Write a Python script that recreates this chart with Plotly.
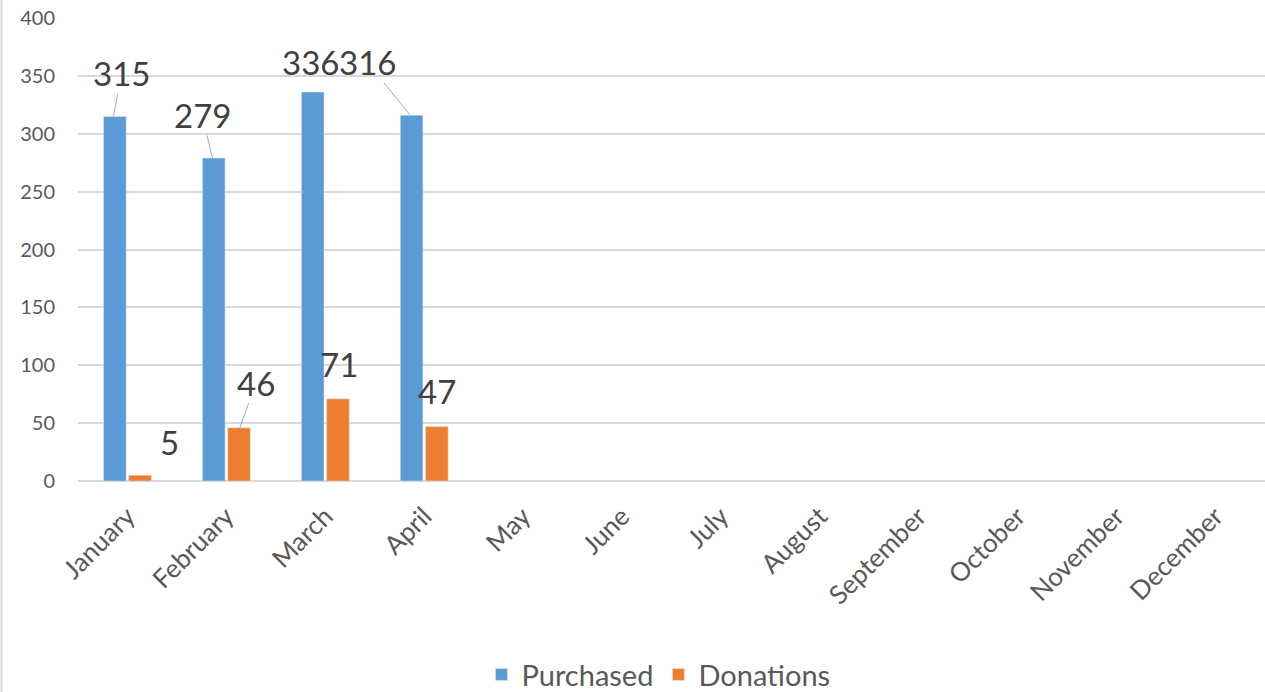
import plotly.graph_objects as go

months = ["January", "February", "March", "April", "May", "June", "July",
          "August", "September", "October", "November", "December"]
purchased = [315, 279, 336, 316, None, None, None, None, None, None, None, None]
donations = [5, 46, 71, 47, None, None, None, None, None, None, None, None]

BLUE = "#5B9BD5"
ORANGE = "#ED7D31"
TEXT = "#595959"
GRID = "#D9D9D9"
FONT = "Lato, 'Open Sans', sans-serif"

fig = go.Figure()
fig.add_trace(go.Bar(x=months, y=purchased, name="Purchased", marker_color=BLUE))
fig.add_trace(go.Bar(x=months, y=donations, name="Donations", marker_color=ORANGE))

# data labels: (series values, bar offset px, label dx, label dy, leader line)
label_style = {
    "purchased": {"shift": -14, "dx": [8, -10, -1, -43], "dy": [-43, -43, -30, -53],
                  "line": [True, True, False, True]},
    "donations": {"shift": 13.5, "dx": [29, 16, 0, -1], "dy": [-33, -45, -35, -36],
                  "line": [False, True, False, False]},
}
for key, values in (("purchased", purchased), ("donations", donations)):
    st = label_style[key]
    for i, v in enumerate(values):
        if v is None:
            continue
        common = dict(x=months[i], y=v, text=str(v), xref="x", yref="y",
                      font=dict(family=FONT, size=33, color="#404040"))
        if st["line"][i]:
            fig.add_annotation(**common, showarrow=True, arrowhead=0, arrowwidth=1,
                               arrowcolor="#A6A6A6", ax=st["dx"][i], ay=st["dy"][i],
                               xshift=st["shift"], standoff=0, borderpad=0)
        else:
            fig.add_annotation(**common, showarrow=False,
                               xshift=st["shift"] + st["dx"][i], yshift=-st["dy"][i])

# thin border on the left side of the chart area
fig.add_shape(type="line", xref="paper", yref="paper", x0=-0.0645, x1=-0.0645,
              y0=-0.46, y1=1.04, line=dict(color=GRID, width=2))

fig.update_layout(
    width=1265, height=692,
    margin=dict(l=78, r=0, t=18, b=211, autoexpand=False),
    paper_bgcolor="white", plot_bgcolor="white",
    barmode="group", bargap=0.49, bargroupgap=0.1,
    font=dict(family=FONT, color=TEXT),
    showlegend=True,
    legend=dict(orientation="h", x=0.489, xanchor="center", y=-0.418, yanchor="middle",
                font=dict(size=29, color=TEXT), itemwidth=30, traceorder="normal"),
    xaxis=dict(tickangle=-45, tickfont=dict(size=26, color=TEXT), showgrid=False,
               showline=False, ticks="", categoryorder="array", categoryarray=months,
               ticklabelstandoff=14, automargin=False),
    yaxis=dict(range=[0, 400], dtick=50, tickfont=dict(size=20, color=TEXT),
               gridcolor=GRID, gridwidth=2, zeroline=True, zerolinecolor=GRID,
               zerolinewidth=2, showline=False, ticks="", ticklabelstandoff=22,
               automargin=False),
)

fig.write_html("out.html")
